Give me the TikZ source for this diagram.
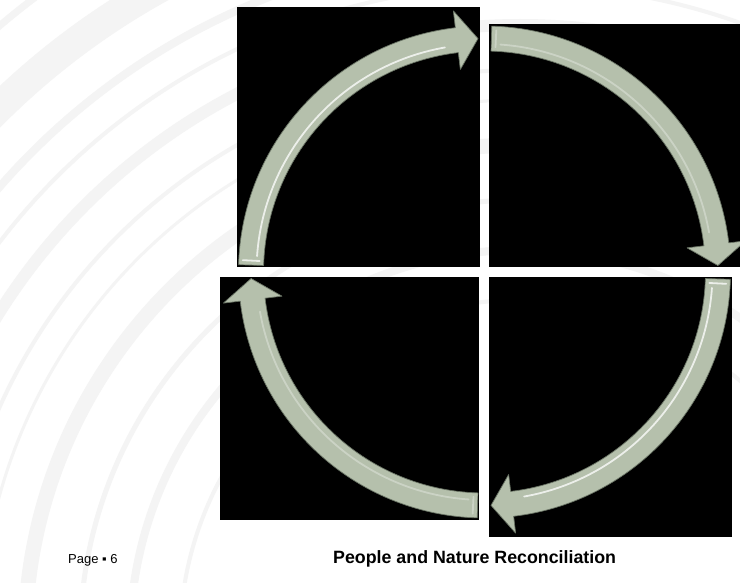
\documentclass[tikz,border=0pt]{standalone}
\usepackage{fontspec}
\setmainfont{Liberation Sans}
\definecolor{arrowfill}{RGB}{181,192,172}
\definecolor{arrowedge}{RGB}{105,115,100}
\definecolor{ringgray}{RGB}{244,244,244}
\tikzset{
  panel/.style={fill=black},
  arrowbody/.style={fill=arrowfill, draw=arrowedge, line width=0.7pt, line join=round},
  shine/.style={draw=white, line width=1.8pt, line cap=round},
  ring/.style={draw=ringgray},
  footer/.style={inner sep=0pt, anchor=base west, text=black}
}
\newcommand{\quarterarrow}[2]{%
  \begin{scope}[shift={(484.5,272)}, x=1pt, y=1pt, rotate=#1]
    \path[arrowbody] (178.3:246) arc[start angle=178.3, end angle=96.8, radius=246]
      -- (96.8:263) -- (91.6:233.5) -- (96.8:204) -- (96.8:221)
      arc[start angle=96.8, end angle=178.3, radius=221] -- cycle;
    \draw[shine, opacity=#2] (176:228) arc[start angle=176, end angle=100, radius=228];
    \draw[shine, opacity=#2] (177.2:225) -- (177.2:242);
  \end{scope}}
\begin{document}
\begin{tikzpicture}[x=1pt,y=-1pt]
\useasboundingbox (0,0) rectangle (740,583);
\clip (0,0) rectangle (740,583);
\fill[white] (0,0) rectangle (740,583);
% faint background rings
\begin{scope}[shift={(520,640)}, x=1pt, y=1pt]
  \draw[ring, line width=5pt]  (0,0) circle[radius=850];
  \draw[ring, line width=7pt]  (0,0) circle[radius=805];
  \draw[ring, line width=30pt] (0,0) circle[radius=745];
  \draw[ring, line width=8pt]  (0,0) circle[radius=690];
  \draw[ring, line width=4pt]  (0,0) circle[radius=655];
  \draw[ring, line width=12pt] (0,0) circle[radius=615];
  \draw[ring, line width=4pt]  (0,0) circle[radius=570];
  \draw[ring, line width=3pt]  (0,0) circle[radius=540];
  \draw[ring, line width=15pt] (0,0) circle[radius=495];
  \draw[ring, line width=5pt]  (0,0) circle[radius=440];
  \draw[ring, line width=8pt]  (0,0) circle[radius=390];
  \draw[ring, line width=4pt]  (0,0) circle[radius=340];
\end{scope}
% panels
\fill[panel] (237,7) rectangle (480,267);
\fill[panel] (489,24) rectangle (740,267);
\fill[panel] (489,277) rectangle (732,537);
\fill[panel] (220,277) rectangle (479,520);
% arrows
\quarterarrow{0}{0.75}
\quarterarrow{-90}{0.3}
\quarterarrow{180}{0.75}
\quarterarrow{90}{0.3}
% footer
\node[footer] (page) at (68,563) {\fontsize{13}{15}\selectfont Page ▪ 6};
\node[footer] (title) at (333,563) {\fontsize{17.8}{20}\selectfont\bfseries People and Nature Reconciliation};
\end{tikzpicture}
\end{document}
